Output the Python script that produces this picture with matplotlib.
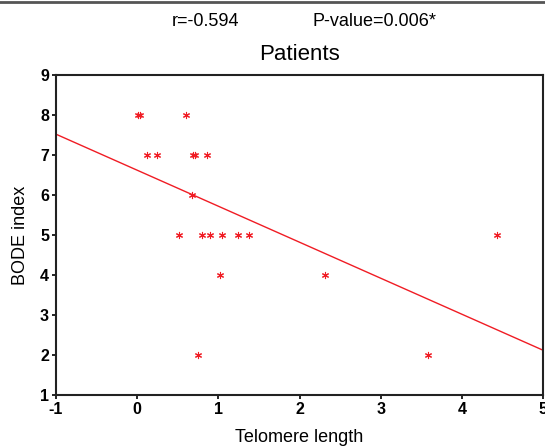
import matplotlib
matplotlib.use("Agg")
import matplotlib.pyplot as plt
from matplotlib.lines import Line2D
import numpy as np

plt.rcParams['font.family'] = ['Liberation Sans', 'DejaVu Sans']
plt.rcParams['axes.unicode_minus'] = False

# Data
telomere = [0.01, 0.04, 0.60,
            0.12, 0.25, 0.69, 0.71, 0.86,
            0.68,
            0.52, 0.80, 0.90, 1.05, 1.24, 1.38, 4.43,
            1.02, 2.31,
            0.75, 3.58]
bode = [8, 8, 8,
        7, 7, 7, 7, 7,
        6,
        5, 5, 5, 5, 5, 5, 5,
        4, 4,
        2, 2]
fit_intercept = 6.62
fit_slope = -0.90
x_ticks = [-1, 0, 1, 2, 3, 4, 5]
y_ticks = [1, 2, 3, 4, 5, 6, 7, 8, 9]

fig = plt.figure(figsize=(5.45, 4.47), dpi=100)
ax = fig.add_axes([56/545, 1-395/447, (543-56)/545, (395-75)/447])

red = '#f01c24'
xl = np.array([-1, 5])
ax.plot(xl, fit_intercept + fit_slope*xl, color=red, lw=1.0)
ax.scatter(telomere, bode, marker=(6, 2, 0), s=20, color=red, linewidths=0.8)

ax.set_xlim(-1, 5)
ax.set_ylim(1, 9)
ax.set_xticks(x_ticks)
ax.set_yticks(y_ticks)
ax.tick_params(direction='out', length=3, width=1.2, labelsize=11.5, pad=2)
for lab in ax.get_xticklabels() + ax.get_yticklabels():
    lab.set_fontweight('bold')
for s in ax.spines.values():
    s.set_linewidth(1.5)
    s.set_color('#222222')

ax.set_xlabel('Telomere length', fontsize=13, labelpad=9)
ax.set_ylabel('BODE index', fontsize=13, labelpad=8)
ax.set_title('Patients', fontsize=16, pad=11)
fig.text(172/545, 1-22/447, 'r=-0.594', fontsize=13, va='center', ha='left')
fig.text(312/545, 1-22/447, 'P-value=0.006*', fontsize=13, va='center', ha='left')

fig.add_artist(Line2D([0, 1], [1-1.5/447, 1-1.5/447], color='#555555', lw=2.0,
                      transform=fig.transFigure))

fig.savefig('out.png', dpi=100)
